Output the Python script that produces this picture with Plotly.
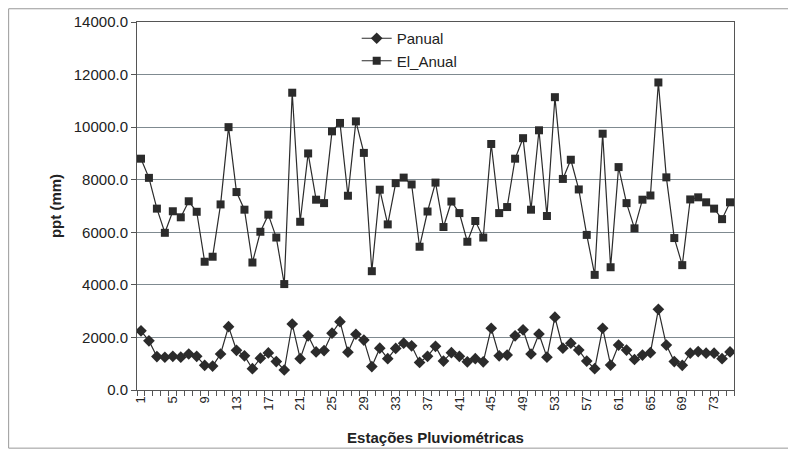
import plotly.graph_objects as go

stations = list(range(1, 76))

panual = [2250, 1870, 1270, 1245, 1280, 1250, 1370, 1280, 940, 910,
          1370, 2410, 1510, 1300, 810, 1210, 1410, 1080, 760, 2510,
          1190, 2060, 1450, 1500, 2160, 2600, 1440, 2120, 1900, 890,
          1590, 1190, 1580, 1780, 1680, 1050, 1280, 1660, 1100, 1420,
          1280, 1070, 1190, 1070, 2350, 1300, 1330, 2060, 2290, 1370,
          2130, 1250, 2770, 1590, 1780, 1520, 1100, 810, 2350, 950,
          1710, 1520, 1160, 1330, 1420, 3070, 1710, 1080, 940, 1400,
          1460, 1400, 1400, 1190, 1450]

el_anual = [8800, 8070, 6900, 5980, 6800, 6570, 7180, 6780, 4880, 5070,
            7060, 10000, 7530, 6860, 4850, 6020, 6670, 5800, 4030, 11310,
            6400, 9000, 7240, 7110, 9840, 10160, 7390, 10220, 9020, 4520,
            7620, 6300, 7870, 8080, 7820, 5450, 6790, 7890, 6200, 7170,
            6730, 5640, 6430, 5800, 9360, 6730, 6960, 8800, 9580, 6860,
            9880, 6620, 11140, 8030, 8760, 7630, 5900, 4380, 9750, 4670,
            8480, 7110, 6150, 7240, 7400, 11700, 8090, 5780, 4750, 7250,
            7330, 7140, 6900, 6500, 7140]

x_tick_labels = [str(v) for v in range(1, 76, 4)]
y_tick_values = [0, 2000, 4000, 6000, 8000, 10000, 12000, 14000]

font_family = "Liberation Sans, Arial, sans-serif"
ink = "#2b2b2b"

fig = go.Figure()
fig.add_trace(go.Scatter(
    x=stations, y=panual, name="Panual", mode="lines+markers",
    line=dict(color=ink, width=1.2),
    marker=dict(symbol="diamond", size=9, color=ink),
))
fig.add_trace(go.Scatter(
    x=stations, y=el_anual, name="El_Anual", mode="lines+markers",
    line=dict(color=ink, width=1.2),
    marker=dict(symbol="square", size=8, color=ink),
))

fig.update_layout(
    width=796, height=449,
    margin=dict(l=129, r=70, t=14, b=67),
    paper_bgcolor="white", plot_bgcolor="white",
    font=dict(family=font_family, color="#222", size=14),
    showlegend=True,
    legend=dict(x=0.368, y=1.0, xanchor="left", yanchor="top",
                bgcolor="rgba(0,0,0,0)", borderwidth=0,
                font=dict(size=15, family=font_family, color="#222"),
                tracegroupgap=4),
)

fig.update_xaxes(
    range=[0.5, 75.5],
    tickmode="array",
    tickvals=[int(v) for v in x_tick_labels],
    ticktext=x_tick_labels,
    tickangle=-90,
    ticks="",
    tickfont=dict(size=13, family=font_family, color="#222"),
    showgrid=False, zeroline=False, automargin=False,
    showline=True, linecolor="#555", linewidth=1, mirror=True,
    minor=dict(ticks="outside", tick0=0.5, dtick=1, ticklen=5,
               tickcolor="#555", showgrid=False),
    title=dict(text="<b>Estações Pluviométricas</b>",
               font=dict(size=15, family=font_family, color="#222"),
               standoff=22),
)

fig.update_yaxes(
    range=[0, 14000],
    tickmode="array",
    tickvals=y_tick_values,
    ticktext=[f"{v:.1f}" for v in y_tick_values],
    ticks="outside", ticklen=5, tickcolor="#555",
    tickfont=dict(size=15, family=font_family, color="#222"),
    showgrid=True, gridcolor="#7f8a90", gridwidth=1,
    zeroline=False, automargin=False,
    showline=True, linecolor="#555", linewidth=1, mirror=True,
    title=dict(text="<b>ppt (mm)</b>",
               font=dict(size=15, family=font_family, color="#222"),
               standoff=8),
)

# white legend background only where it interrupts the 12000 gridline
fig.add_shape(type="rect", xref="paper", yref="paper",
              x0=0.3685, x1=0.549, y0=0.846, y1=0.868,
              fillcolor="white", line=dict(width=0), layer="between")

# outer chart frame
fig.add_shape(type="rect", xref="paper", yref="paper",
              x0=-0.215, x1=1.2, y0=-0.158, y1=1.036,
              line=dict(color="#999", width=1), layer="below")

fig.write_html("out.html")
